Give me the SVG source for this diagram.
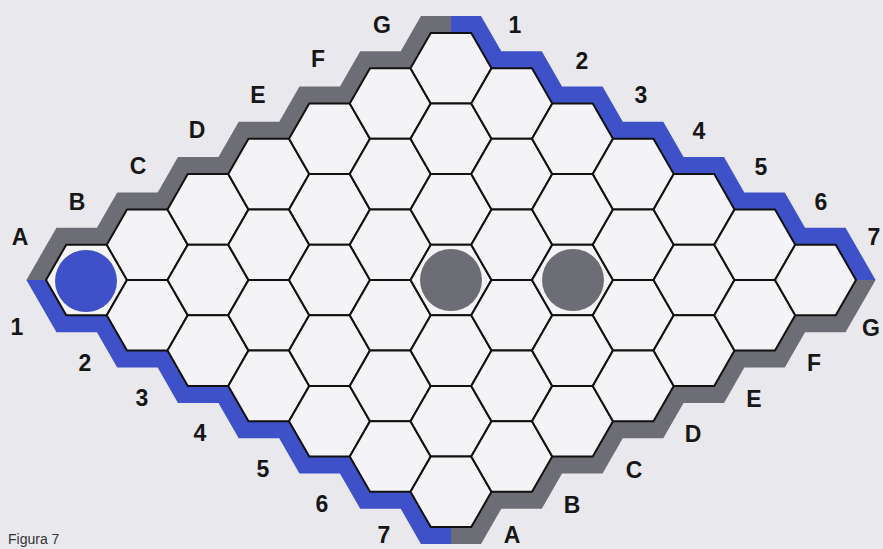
<svg xmlns="http://www.w3.org/2000/svg" xmlns:xlink="http://www.w3.org/1999/xlink" width="883" height="549" viewBox="0 0 883 549">
<style>
.bg{fill:#e9e9ed}
.cell{fill:#f4f4f6;stroke:#111;stroke-width:2;stroke-linejoin:miter}
.gray{fill:#6d6d75}
.blue{fill:#3f51c9}
.lbl{font-family:"Liberation Sans",Arial,sans-serif;font-weight:bold;font-size:23px;fill:#161616;text-anchor:middle}
.cap{font-family:"Liberation Sans",Arial,sans-serif;font-size:14px;fill:#333}
</style>
<defs>
<polygon id="h" class="cell" points="-40.5,0 -20.25,-35.3 20.25,-35.3 40.5,0 20.25,35.3 -20.25,35.3"/>
<polygon id="band" points="46,280 66.25,244.7 106.75,244.7 127,209.4 167.5,209.4 187.75,174.1 228.25,174.1 248.5,138.8 289,138.8 309.25,103.5 349.75,103.5 370,68.2 410.5,68.2 430.75,32.9 451,32.9 451,15.9 420.95,15.9 400.7,51.2 360.2,51.2 339.95,86.5 299.45,86.5 279.2,121.8 238.7,121.8 218.45,157.1 177.95,157.1 157.7,192.4 117.2,192.4 96.95,227.7 56.45,227.7 26.4,280"/>
</defs>
<rect class="bg" x="0" y="0" width="883" height="549"/>
<g id="borders">
<use xlink:href="#band" class="gray"/>
<use xlink:href="#band" class="blue" transform="translate(902,0) scale(-1,1)"/>
<use xlink:href="#band" class="blue" transform="translate(0,560) scale(1,-1)"/>
<use xlink:href="#band" class="gray" transform="rotate(180 451 280)"/>
</g>
<g id="cells">
<use xlink:href="#h" x="86.5" y="280"/>
<use xlink:href="#h" x="147.25" y="244.7"/><use xlink:href="#h" x="147.25" y="315.3"/>
<use xlink:href="#h" x="208" y="209.4"/><use xlink:href="#h" x="208" y="280"/><use xlink:href="#h" x="208" y="350.6"/>
<use xlink:href="#h" x="268.75" y="174.1"/><use xlink:href="#h" x="268.75" y="244.7"/><use xlink:href="#h" x="268.75" y="315.3"/><use xlink:href="#h" x="268.75" y="385.9"/>
<use xlink:href="#h" x="329.5" y="138.8"/><use xlink:href="#h" x="329.5" y="209.4"/><use xlink:href="#h" x="329.5" y="280"/><use xlink:href="#h" x="329.5" y="350.6"/><use xlink:href="#h" x="329.5" y="421.2"/>
<use xlink:href="#h" x="390.25" y="103.5"/><use xlink:href="#h" x="390.25" y="174.1"/><use xlink:href="#h" x="390.25" y="244.7"/><use xlink:href="#h" x="390.25" y="315.3"/><use xlink:href="#h" x="390.25" y="385.9"/><use xlink:href="#h" x="390.25" y="456.5"/>
<use xlink:href="#h" x="451" y="68.2"/><use xlink:href="#h" x="451" y="138.8"/><use xlink:href="#h" x="451" y="209.4"/><use xlink:href="#h" x="451" y="280"/><use xlink:href="#h" x="451" y="350.6"/><use xlink:href="#h" x="451" y="421.2"/><use xlink:href="#h" x="451" y="491.8"/>
<use xlink:href="#h" x="511.75" y="103.5"/><use xlink:href="#h" x="511.75" y="174.1"/><use xlink:href="#h" x="511.75" y="244.7"/><use xlink:href="#h" x="511.75" y="315.3"/><use xlink:href="#h" x="511.75" y="385.9"/><use xlink:href="#h" x="511.75" y="456.5"/>
<use xlink:href="#h" x="572.5" y="138.8"/><use xlink:href="#h" x="572.5" y="209.4"/><use xlink:href="#h" x="572.5" y="280"/><use xlink:href="#h" x="572.5" y="350.6"/><use xlink:href="#h" x="572.5" y="421.2"/>
<use xlink:href="#h" x="633.25" y="174.1"/><use xlink:href="#h" x="633.25" y="244.7"/><use xlink:href="#h" x="633.25" y="315.3"/><use xlink:href="#h" x="633.25" y="385.9"/>
<use xlink:href="#h" x="694" y="209.4"/><use xlink:href="#h" x="694" y="280"/><use xlink:href="#h" x="694" y="350.6"/>
<use xlink:href="#h" x="754.75" y="244.7"/><use xlink:href="#h" x="754.75" y="315.3"/>
<use xlink:href="#h" x="815.5" y="280"/>
</g>
<g id="stones">
<circle id="stone-blue" class="blue" cx="86" cy="281" r="31"/>
<circle id="stone-gray-1" class="gray" cx="451" cy="280" r="31"/>
<circle id="stone-gray-2" class="gray" cx="573" cy="280" r="31"/>
</g>
<g id="labels-letters-top" class="lbl">
<text x="20" y="245">A</text><text x="77" y="210">B</text><text x="138" y="174">C</text><text x="197" y="138">D</text><text x="258" y="103">E</text><text x="318" y="67">F</text><text x="382" y="33">G</text>
</g>
<g id="labels-numbers-top" class="lbl">
<text x="515" y="33">1</text><text x="582" y="69">2</text><text x="641" y="103">3</text><text x="699" y="139">4</text><text x="761" y="175">5</text><text x="821" y="210">6</text><text x="874" y="245">7</text>
</g>
<g id="labels-numbers-bottom" class="lbl">
<text x="17" y="335">1</text><text x="85" y="371">2</text><text x="142" y="406">3</text><text x="200" y="441">4</text><text x="263" y="477">5</text><text x="322" y="512">6</text><text x="384" y="543">7</text>
</g>
<g id="labels-letters-bottom" class="lbl">
<text x="512" y="543">A</text><text x="572" y="513">B</text><text x="634" y="478">C</text><text x="693" y="442">D</text><text x="754" y="407">E</text><text x="814" y="371">F</text><text x="871" y="336">G</text>
</g>
<text class="cap" x="8" y="544">Figura 7</text>
</svg>
